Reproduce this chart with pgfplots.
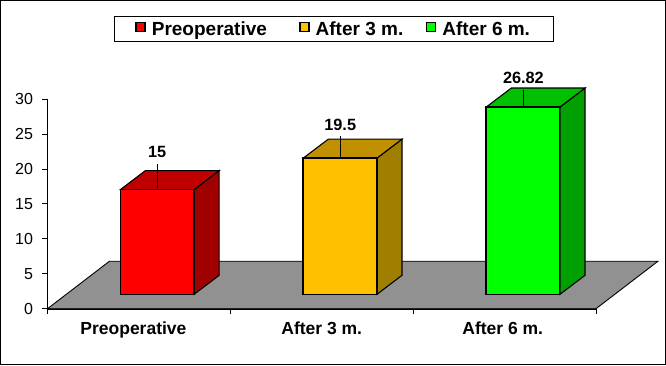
\documentclass[border=0pt]{standalone}
\usepackage{pgfplots}
\pgfplotsset{compat=1.18}
\usepackage{fontspec}
\setmainfont{Liberation Sans}
\definecolor{floorgray}{HTML}{919191}
\definecolor{rf}{HTML}{FF0000}\definecolor{rt}{HTML}{C00000}\definecolor{rs}{HTML}{A00000}
\definecolor{yf}{HTML}{FFC000}\definecolor{yt}{HTML}{C09000}\definecolor{ys}{HTML}{A07F00}
\definecolor{gf}{HTML}{00FF00}\definecolor{gt}{HTML}{00C000}\definecolor{gs}{HTML}{00A000}
\pgfplotsset{
  swatch/.style={legend image code/.code={\draw[##1,draw=black,line width=1.4pt] (0.5pt,-16.8pt) rectangle (9.5pt,-7.8pt);\path (13.5pt,-12pt);}},
  face/.style={draw=black,line width=1.1pt,line join=miter,yshift=14.4pt,forget plot},
  front/.style={ybar,bar width=73.7pt,bar shift=0pt,draw=black,line width=1.4pt,yshift=14.4pt,swatch},
  leader/.style={draw=black,line width=0.7pt,yshift=14.4pt,forget plot}
}
\begin{document}
\begin{tikzpicture}[x=1pt,y=1pt]
\useasboundingbox (0,0) rectangle (666,365);
\draw[black,line width=1pt] (0.5,0.5) rectangle (665.5,364.5);
\begin{axis}[
  at={(47.5pt,56.3pt)},anchor=south west,
  scale only axis,width=548.5pt,height=209.5pt,
  xmin=0,xmax=3,ymin=0,ymax=30,clip=false,
  axis lines=left,
  axis line style={-,line width=1.6pt,black},
  tick style={black,line width=1pt},
  major tick length=5pt,
  tick align=outside,
  ytick={0,5,10,15,20,25,30},
  xtick={0,1,2,3},xticklabels={,,,},
  extra x ticks={0.47,1.5,2.49},
  extra x tick labels={Preoperative,After 3 m.,After 6 m.},
  extra x tick style={major tick length=0pt,tick label style={font=\fontsize{17.5}{18}\selectfont\bfseries,yshift=-9.5pt}},
  tick label style={font=\fontsize{16}{18}\selectfont},
  yticklabel style={xshift=-6pt},
  /pgf/number format/assume math mode=true,
  ticklabel style={text=black},
  legend style={at={(0.5219,1.334)},anchor=center,draw=black,line width=1pt,
    font=\fontsize{19}{20}\selectfont\bfseries,
    legend columns=3,inner xsep=21pt,inner ysep=3pt,
    /tikz/column 2/.style={column sep=30.3pt},
    /tikz/column 4/.style={column sep=20.7pt}},
  legend cell align=left,
]
% floor
\addplot[fill=floorgray,draw=black,line width=0.9pt,forget plot] coordinates {(0,0)(3,0)(3.339,6.8)(0.339,6.8)} -- cycle;

% side and top faces
\addplot[face,fill=rs] coordinates {(0.802,0)(0.939,2.72)(0.939,17.72)(0.802,15)} -- cycle;
\addplot[face,fill=rt] coordinates {(0.399,15)(0.802,15)(0.939,17.72)(0.536,17.72)} -- cycle;
\addplot[face,fill=ys] coordinates {(1.802,0)(1.939,2.72)(1.939,22.22)(1.802,19.5)} -- cycle;
\addplot[face,fill=yt] coordinates {(1.399,19.5)(1.802,19.5)(1.939,22.22)(1.536,22.22)} -- cycle;
\addplot[face,fill=gs] coordinates {(2.803,0)(2.94,2.72)(2.94,29.54)(2.803,26.82)} -- cycle;
\addplot[face,fill=gt] coordinates {(2.4,26.82)(2.803,26.82)(2.94,29.54)(2.537,29.54)} -- cycle;

% front faces
\addplot[front,fill=rf] coordinates {(0.6,15)};
\addlegendentry{Preoperative}
\addplot[front,fill=yf] coordinates {(1.6,19.5)};
\addlegendentry{After 3 m.}
\addplot[front,fill=gf] coordinates {(2.6,26.82)};
\addlegendentry{After 6 m.}

% leaders and value labels
\tikzset{vlabel/.style={font=\fontsize{16.3}{18}\selectfont\bfseries,anchor=center,yshift=12pt,text=black}}
\addplot[leader] coordinates {(0.6,15)(0.6,18.73)} node[pos=1,vlabel] {15};
\addplot[leader] coordinates {(1.601,19.5)(1.601,22.6)} node[pos=1,vlabel] {19.5};
\addplot[leader] coordinates {(2.603,26.82)(2.603,29.26)} node[pos=1,vlabel] {26.82};
\end{axis}
\end{tikzpicture}
\end{document}
